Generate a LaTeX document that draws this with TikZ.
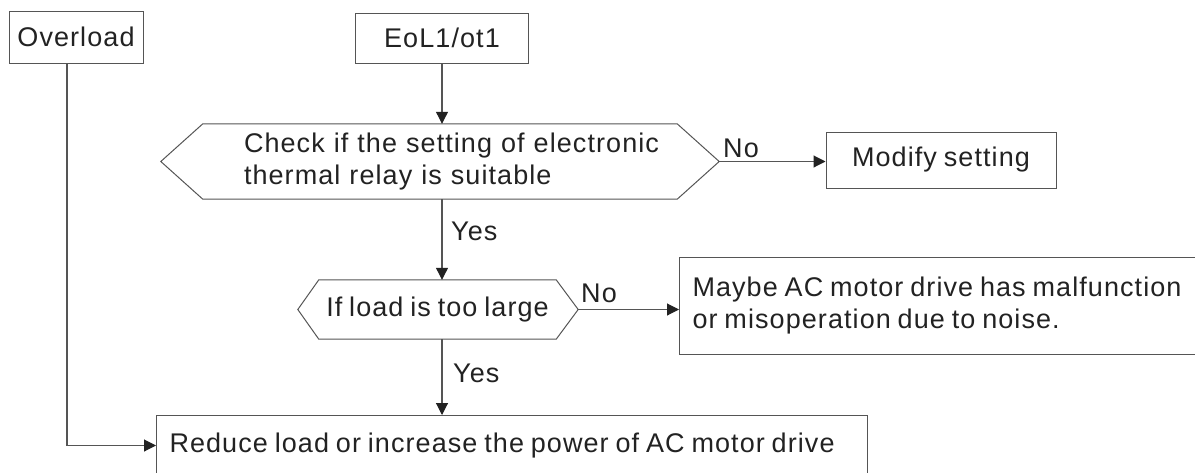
\documentclass[tikz,border=0pt]{standalone}
\usepackage{fontspec}
\setmainfont{Liberation Sans}[LetterSpace=4.0,WordSpace=0.8]
\usetikzlibrary{arrows.meta}
\definecolor{ln}{HTML}{555555}
\definecolor{tx}{HTML}{222222}
\tikzset{
  box/.style={draw=ln, line width=1pt, rectangle, inner sep=0pt, text=tx},
  hexbody/.style={rectangle, inner sep=0pt, text=tx},
  hexline/.style={draw=ln, line width=1pt, line join=miter},
  conn/.style={draw=ln, line width=1.1pt, -{Triangle[length=12pt,width=12pt,color=tx]}},
  lbl/.style={text=tx, inner sep=0pt, anchor=base west}
}
\begin{document}
\begin{tikzpicture}[x=1pt,y=-1pt,font=\fontsize{27}{32}\selectfont]
\useasboundingbox (0,0) rectangle (1195,472);
\clip (0,0) rectangle (1195,472);

% nodes
\node[box, minimum width=134pt, minimum height=52pt] (ov) at (76,37) {Overload};
\node[box, minimum width=173pt, minimum height=50pt] (eol) at (442,38) {EoL1/ot1};

\node[hexbody, minimum width=474pt, minimum height=75pt, text width=474pt, align=left] (chk) at (440,161.5)
  {\hspace*{41pt}Check if the setting of electronic\\\hspace*{41pt}thermal relay is suitable};
\coordinate (chkR) at ([xshift=42pt]chk.east);
\coordinate (chkL) at ([xshift=-42pt]chk.west);
\draw[hexline] (chk.north west) -- (chk.north east) -- (chkR) -- (chk.south east)
  -- (chk.south west) -- (chkL) -- cycle;

\node[box, minimum width=230pt, minimum height=56pt] (mod) at (941,160) {Modify setting};

\node[hexbody, minimum width=237pt, minimum height=59pt] (hex) at (437.5,309.5) {If load is too large};
\coordinate (hexR) at ([xshift=22pt]hex.east);
\coordinate (hexL) at ([xshift=-21pt]hex.west);
\draw[hexline] (hex.north west) -- (hex.north east) -- (hexR) -- (hex.south east)
  -- (hex.south west) -- (hexL) -- cycle;

\node[box, anchor=north west, minimum height=97pt, inner xsep=13pt] (may) at (679,257)
  {\begin{tabular}{@{}l@{}}Maybe AC motor drive has malfunction\\or misoperation due to noise.\end{tabular}\hspace*{60pt}};

\node[box, anchor=north west, minimum height=60pt, inner xsep=13pt] (red) at (156,415)
  {\makebox[685pt][l]{Reduce load or increase the power of AC motor drive}};

% connectors
\draw[conn] (eol.south) -- (eol.south |- chk.north);
\draw[conn] (chkR) -- (chkR -| mod.west);
\draw[conn] (eol.south |- chk.south) -- (eol.south |- hex.north);
\draw[conn] (hexR) -- (hexR -| may.west);
\draw[conn] (eol.south |- hex.south) -- (eol.south |- red.north);
\draw[conn] ([xshift=-9pt]ov.south) |- (red.west);

% labels
\node[lbl] (no1) at (723,157) {No};
\node[lbl] (yes1) at (451,240) {Yes};
\node[lbl] (no2) at (581,302) {No};
\node[lbl] (yes2) at (453,382) {Yes};
\end{tikzpicture}
\end{document}
